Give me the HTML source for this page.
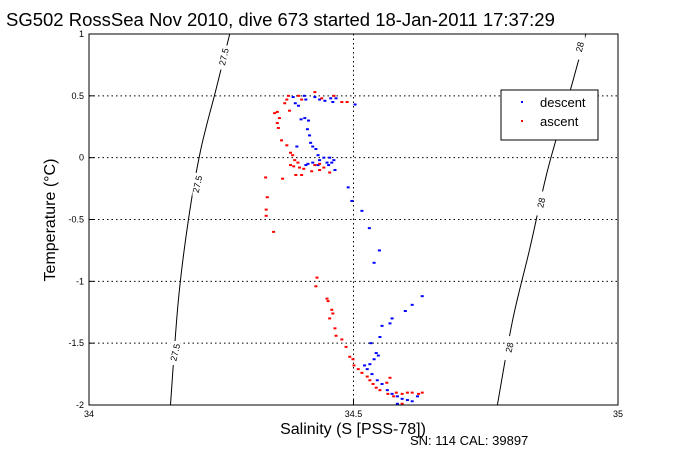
<!DOCTYPE html>
<html><head><meta charset="utf-8"><style>
body{margin:0;background:#fff;}
svg{display:block;font-family:"Liberation Sans",sans-serif;}
</style></head><body>
<svg id="chart" width="681" height="454" viewBox="0 0 681 454">
<rect x="0" y="0" width="681" height="454" fill="#fff"/>
<text x="6" y="26" font-size="18.5">SG502 RossSea Nov 2010, dive 673 started 18-Jan-2011 17:37:29</text>
<g id="grid"></g>
<g id="contours"></g>
<g id="marks"></g>
<rect x="89" y="34" width="529" height="371" fill="none" stroke="#000" stroke-width="1"/>
<g id="ticks"></g>
<text x="353" y="434" font-size="16" text-anchor="middle">Salinity (S [PSS-78])</text>
<text transform="translate(55,220) rotate(-90)" font-size="16" text-anchor="middle">Temperature (°C)</text>
<text x="410" y="445" font-size="13">SN: 114  CAL: 39897</text>
<g>
<rect x="501" y="90" width="97" height="50" fill="#fff" stroke="#000"/>
<rect x="521" y="101" width="2" height="2" fill="#00f"/>
<text x="540" y="107" font-size="13">descent</text>
<rect x="521" y="120" width="2" height="2" fill="#f00"/>
<text x="540" y="126" font-size="13">ascent</text>
</g>
</svg>
<script>
const xTicks=[34,34.5,35];
const yTicks=[1,0.5,0,-0.5,-1,-1.5,-2];
const yTickLabels=["1","0.5","0","-0.5","-1","-1.5","-2"];
const descentS=[34.385,34.406,34.409,34.426,34.435,34.445,34.456,34.460,34.466,34.389,34.395,34.502,34.400,34.407,34.414,34.412,34.416,34.418,34.422,34.428,34.392,34.432,34.435,34.443,34.449,34.454,34.458,34.432,34.422,34.413,34.409,34.452,34.462,34.464,34.489,34.496,34.515,34.529,34.548,34.538,34.629,34.610,34.597,34.572,34.568,34.553,34.549,34.532,34.546,34.542,34.538,34.530,34.525,34.520,34.534,34.544,34.553,34.563,34.572,34.582,34.591,34.601,34.610,34.620,34.582];
const descentT=[0.49,0.50,0.47,0.49,0.47,0.46,0.48,0.45,0.48,0.44,0.42,0.43,0.31,0.32,0.30,0.23,0.18,0.12,0.09,0.07,0.09,0.02,-0.02,0.00,-0.04,0.00,-0.04,-0.06,-0.04,-0.05,-0.06,-0.06,-0.02,-0.10,-0.24,-0.35,-0.43,-0.57,-0.75,-0.85,-1.12,-1.19,-1.24,-1.30,-1.34,-1.36,-1.45,-1.50,-1.60,-1.58,-1.63,-1.67,-1.71,-1.68,-1.75,-1.80,-1.83,-1.88,-1.91,-1.93,-1.95,-1.96,-1.97,-1.93,-1.99];
const ascentS=[34.426,34.376,34.373,34.369,34.378,34.355,34.350,34.359,34.355,34.357,34.363,34.373,34.380,34.384,34.388,34.394,34.380,34.386,34.397,34.405,34.420,34.435,34.443,34.454,34.426,34.435,34.401,34.390,34.333,34.365,34.336,34.334,34.334,34.348,34.430,34.428,34.449,34.451,34.458,34.460,34.454,34.464,34.466,34.477,34.485,34.492,34.498,34.500,34.508,34.515,34.525,34.530,34.536,34.542,34.549,34.562,34.568,34.564,34.575,34.580,34.591,34.601,34.610,34.622,34.629,34.591,34.477,34.487,34.462,34.439,34.401,34.395];
const ascentT=[0.53,0.50,0.47,0.44,0.38,0.37,0.36,0.32,0.28,0.24,0.14,0.10,0.04,0.02,-0.02,-0.04,-0.06,-0.07,-0.08,-0.09,-0.11,-0.10,-0.08,-0.12,-0.06,-0.05,-0.14,-0.14,-0.16,-0.17,-0.32,-0.42,-0.47,-0.60,-0.97,-1.04,-1.14,-1.16,-1.23,-1.26,-1.30,-1.38,-1.44,-1.47,-1.53,-1.61,-1.63,-1.68,-1.71,-1.74,-1.77,-1.80,-1.83,-1.86,-1.88,-1.82,-1.78,-1.91,-1.93,-1.90,-1.91,-1.90,-1.90,-1.91,-1.90,-1.99,0.45,0.45,0.50,0.48,0.47,0.50];
const contour275S=[34.266,34.240,34.211,34.188,34.169,34.154];
const contour275T=[1,0.55,0.06,-0.50,-1.15,-2];
const contour28S=[34.939,34.905,34.867,34.833,34.801,34.772];
const contour28T=[1,0.47,-0.10,-0.74,-1.31,-2];
const x0=89,x1=618,y0=34,y1=405;
const sx=s=>x0+(s-34)/(35-34)*(x1-x0);
const sy=t=>y0+(1-t)/(1-(-2))*(y1-y0);
const NS="http://www.w3.org/2000/svg";
function mk(tag,attrs,parent){const e=document.createElementNS(NS,tag);for(const k in attrs)e.setAttribute(k,attrs[k]);parent.appendChild(e);return e;}
const grid=document.getElementById('grid'),ticks=document.getElementById('ticks'),marks=document.getElementById('marks'),cont=document.getElementById('contours');
xTicks.forEach((v,i)=>{const x=sx(v);
 if(i>0&&i<xTicks.length-1){const g=mk('line',{x1:x,x2:x,y1:y0,y2:y1,stroke:'#000','stroke-dasharray':'1.5,3'},grid);
 
 }
 const t=mk('line',{x1:x,x2:x,y1:y1,y2:y1-5,stroke:'#000'},ticks);
 
 
 const l=mk('text',{x:x,y:417,'font-size':9,'text-anchor':'middle'},ticks);l.textContent=String(v);
 
 });
yTicks.forEach((v,i)=>{const y=sy(v);
 if(i>0&&i<yTicks.length-1){const g=mk('line',{x1:x0,x2:x1,y1:y,y2:y,stroke:'#000','stroke-dasharray':'1.5,3'},grid);
 
 }
 const t=mk('line',{x1:x0,x2:x0+5,y1:y,y2:y,stroke:'#000'},ticks);
 
 
 const l=mk('text',{x:84,y:y+3,'font-size':9,'text-anchor':'end'},ticks);l.textContent=yTickLabels[i];
 
 });
function smoothPath(P){
 let d='M'+P[0][0]+','+P[0][1];
 for(let i=0;i<P.length-1;i++){
  const p0=P[Math.max(0,i-1)],p1=P[i],p2=P[i+1],p3=P[Math.min(P.length-1,i+2)];
  const c1=[p1[0]+(p2[0]-p0[0])/6,p1[1]+(p2[1]-p0[1])/6];
  const c2=[p2[0]-(p3[0]-p1[0])/6,p2[1]-(p3[1]-p1[1])/6];
  d+='C'+c1[0]+','+c1[1]+' '+c2[0]+','+c2[1]+' '+p2[0]+','+p2[1];
 }
 return d;
}
function contour(S,T,name,labels){
 const P=S.map((s,i)=>[sx(s),sy(T[i])]);
 const p=mk('path',{d:smoothPath(P),fill:'none',stroke:'#000','stroke-width':1},cont);
 
 
 labels.forEach(([s,t,txt])=>{const x=sx(s),y=sy(t);
  const r=mk('rect',{x:x-5,y:y-12,width:10,height:24,fill:'#fff'},cont);
  
  
  const l=mk('text',{x:0,y:0,'font-size':9,'text-anchor':'middle',transform:`translate(${x+3},${y}) rotate(-77)`},cont);l.textContent=txt;
  
  });
}
contour(contour275S,contour275T,'contour-27-5',[[34.255,0.81,'27.5'],[34.205,-0.22,'27.5'],[34.163,-1.58,'27.5']]);
contour(contour28S,contour28T,'contour-28',[[34.928,0.89,'28'],[34.855,-0.37,'28'],[34.795,-1.54,'28']]);
function pts(S,T,col,name){S.forEach((s,i)=>{const r=mk('rect',{x:sx(s)-1,y:sy(T[i])-1,width:3,height:2,fill:col},marks);
 
 });}
pts(descentS,descentT,'#00f','descent-point');
pts(ascentS,ascentT,'#f00','ascent-point');
</script>
</body></html>
